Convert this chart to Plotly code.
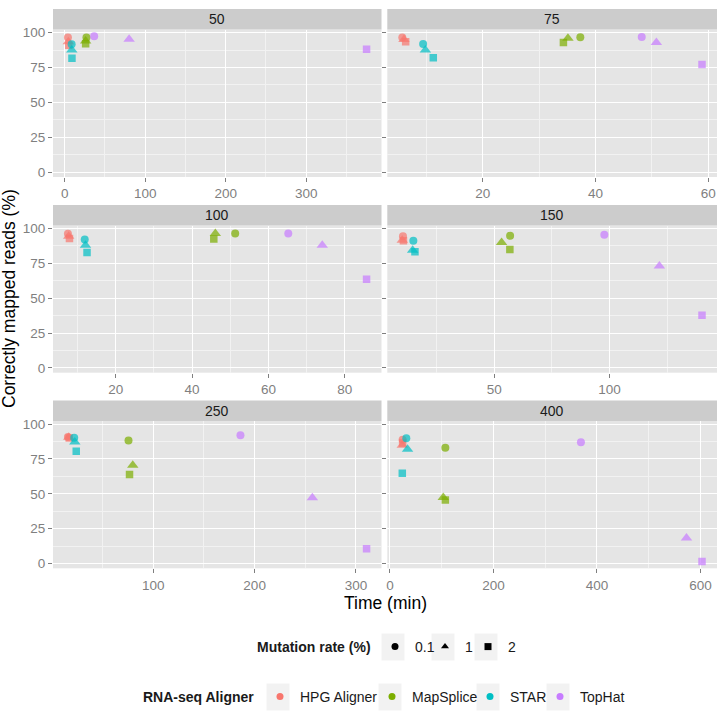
import plotly.graph_objects as go

read_lengths = ["50", "75", "100", "150", "250", "400"]
aligners = ["HPG Aligner", "MapSplice", "STAR", "TopHat"]
aligner_colors = ["#F8766D", "#7CAE00", "#00BFC4", "#C77CFF"]
mutation_rates = ["0.1", "1", "2"]
mutation_symbols = ["circle", "triangle-up", "square"]

# values per panel, ordered aligner x mutation rate (0.1, 1, 2)
time_50 = [4.0, 4.5, 5.0, 27.0, 26.0, 26.0, 8.6, 8.8, 9.0, 36.6, 80.0, 375.0]
acc_50 = [96.5, 93.5, 91.0, 96.4, 94.0, 92.0, 91.7, 87.6, 81.7, 97.4, 95.2, 88.0]
time_75 = [5.7, 6.0, 6.3, 37.3, 35.1, 34.3, 9.4, 9.8, 11.2, 48.2, 50.8, 58.9]
acc_75 = [96.5, 95.0, 93.5, 96.7, 96.0, 92.9, 91.9, 87.6, 82.0, 96.9, 92.9, 77.2]
time_100 = [7.5, 7.7, 7.9, 51.3, 46.1, 45.7, 11.9, 12.1, 12.5, 65.2, 74.1, 85.7]
acc_100 = [96.2, 94.5, 92.8, 96.4, 96.5, 92.6, 92.1, 88.0, 82.9, 96.4, 88.1, 63.6]
time_150 = [10.4, 10.1, 10.6, 56.9, 53.2, 56.8, 14.9, 14.6, 15.6, 97.8, 121.7, 140.2]
acc_150 = [94.5, 91.7, 91.2, 94.8, 90.0, 85.0, 91.2, 84.5, 83.3, 95.5, 73.1, 37.9]
time_250 = [15.7, 16.5, 17.0, 75.5, 79.7, 76.5, 21.9, 22.5, 23.9, 186.0, 257.0, 310.5]
acc_250 = [90.7, 90.5, 90.0, 88.3, 70.5, 63.8, 90.2, 87.1, 80.5, 91.9, 47.1, 10.7]
time_400 = [24.5, 23.8, 24.5, 107.0, 103.0, 107.0, 31.6, 34.0, 23.8, 369.0, 573.0, 603.0]
acc_400 = [88.8, 84.8, 86.5, 83.1, 47.4, 45.5, 89.8, 81.9, 64.8, 86.9, 18.3, 1.4]

panel_times = [time_50, time_75, time_100, time_150, time_250, time_400]
panel_accs = [acc_50, acc_75, acc_100, acc_150, acc_250, acc_400]
x_dticks = [100, 20, 20, 50, 100, 200]

W, H = 722, 726
FONT = "Liberation Sans, Arial, sans-serif"
col_px = [(53, 381.5), (387.3, 717)]
row_px = [(29.5, 177), (225.5, 372.7), (421, 568.3)]
strip_h = 20.5
symbol_sizes = [8, 10, 7.5]

# legend layout (pixel positions of key centres)
mut_key_x = [393, 443, 486]
mut_y = 647
mut_title_right = 373
aln_key_x = [278, 390, 488, 558]
aln_y = 697
aln_title_right = 256
key_w, key_h = 23, 27
leg_shift = 2

fig = go.Figure()


def expand(vals, frac=0.05):
    lo, hi = min(vals), max(vals)
    d = (hi - lo) * frac
    return [lo - d, hi + d]


all_acc = [v for a in panel_accs for v in a]
y_range = expand(all_acc)

tick_font = dict(family=FONT, size=13.5, color="#7F7F7F")
layout = {}
shapes = []
annotations = []

for i, rl in enumerate(read_lengths):
    r, c = divmod(i, 2)
    x0p, x1p = col_px[c]
    y0p, y1p = row_px[r]
    xd = [x0p / W, x1p / W]
    yd = [1 - y1p / H, 1 - y0p / H]
    sfx = "" if i == 0 else str(i + 1)
    times = panel_times[i]
    accs = panel_accs[i]
    for a, name in enumerate(aligners):
        fig.add_trace(go.Scatter(
            x=times[3 * a:3 * a + 3], y=accs[3 * a:3 * a + 3],
            mode="markers", showlegend=False,
            marker=dict(color=aligner_colors[a], size=symbol_sizes,
                        symbol=mutation_symbols, line=dict(width=0)),
            xaxis="x" + sfx, yaxis="y" + sfx,
            name=name,
        ))
    dt = x_dticks[i]
    layout["xaxis" + sfx] = dict(
        domain=xd, anchor="y" + sfx, range=expand(times),
        tick0=0, dtick=dt, showgrid=True, gridcolor="white", gridwidth=1.3,
        minor=dict(showgrid=True, gridcolor="#F2F2F2", gridwidth=0.8, tick0=0, dtick=dt / 2, ticks=""),
        zeroline=False, showline=False, ticks="outside", ticklen=4,
        tickcolor="#7F7F7F", tickfont=tick_font, automargin=False,
    )
    layout["yaxis" + sfx] = dict(
        domain=yd, anchor="x" + sfx, range=y_range,
        tick0=0, dtick=25, showgrid=True, gridcolor="white", gridwidth=1.3,
        minor=dict(showgrid=True, gridcolor="#F2F2F2", gridwidth=0.8, tick0=0, dtick=12.5, ticks=""),
        zeroline=False, showline=False, ticks="outside", ticklen=4,
        tickcolor="#7F7F7F", tickfont=tick_font, automargin=False,
        showticklabels=(c == 0),
    )
    shapes.append(dict(type="rect", xref="paper", yref="paper",
                       x0=xd[0], x1=xd[1], y0=1 - y0p / H, y1=1 - (y0p - strip_h) / H,
                       fillcolor="#CCCCCC", line=dict(width=0), layer="below"))
    annotations.append(dict(text=rl, xref="paper", yref="paper",
                            x=(xd[0] + xd[1]) / 2, y=1 - (y0p - strip_h / 2) / H,
                            showarrow=False, xanchor="center", yanchor="middle",
                            font=dict(family=FONT, size=14, color="#1A1A1A")))

annotations.append(dict(text="Time (min)", xref="paper", yref="paper",
                        x=385 / W, y=1 - 603 / H, showarrow=False,
                        xanchor="center", yanchor="middle",
                        font=dict(family=FONT, size=17.5, color="black")))
annotations.append(dict(text="Correctly mapped reads (%)", xref="paper", yref="paper",
                        x=9 / W, y=1 - 299 / H, showarrow=False, textangle=-90,
                        xanchor="center", yanchor="middle",
                        font=dict(family=FONT, size=17.5, color="black")))

leg_font = dict(family=FONT, size=14, color="#1A1A1A")
annotations.append(dict(text="<b>Mutation rate (%)</b>", xref="paper", yref="paper",
                        x=mut_title_right / W, y=1 - mut_y / H, showarrow=False,
                        xanchor="right", yanchor="middle", font=leg_font))
annotations.append(dict(text="<b>RNA-seq Aligner</b>", xref="paper", yref="paper",
                        x=aln_title_right / W, y=1 - aln_y / H, showarrow=False,
                        xanchor="right", yanchor="middle", font=leg_font))

legends = {}
n_leg = 0


def add_legend_item(name, color, symbol, kx, ky):
    global n_leg
    n_leg += 1
    lname = "legend" if n_leg == 1 else "legend%d" % n_leg
    fig.add_trace(go.Scatter(x=[None], y=[None], mode="markers", name=name,
                             marker=dict(color=color, size=7, symbol=symbol),
                             legend=lname, showlegend=True))
    legends[lname] = dict(orientation="h", x=(kx - 20 + leg_shift) / W, xanchor="left",
                          y=1 - ky / H, yanchor="middle", font=leg_font,
                          bgcolor="rgba(0,0,0,0)", borderwidth=0, itemclick=False,
                          itemdoubleclick=False)
    shapes.append(dict(type="rect", xref="paper", yref="paper",
                       x0=(kx - key_w / 2) / W, x1=(kx + key_w / 2) / W,
                       y0=1 - (ky + key_h / 2) / H, y1=1 - (ky - key_h / 2) / H,
                       fillcolor="#F2F2F2", line=dict(width=0), layer="below"))


for m, mr in enumerate(mutation_rates):
    add_legend_item(mr, "black", mutation_symbols[m], mut_key_x[m], mut_y)
for a, name in enumerate(aligners):
    add_legend_item(name, aligner_colors[a], "circle", aln_key_x[a], aln_y)

fig.update_layout(
    width=W, height=H,
    margin=dict(l=0, r=0, t=0, b=0),
    paper_bgcolor="white", plot_bgcolor="#E5E5E5",
    shapes=shapes, annotations=annotations,
    **legends,
    **layout,
)

fig.write_html("out.html")
